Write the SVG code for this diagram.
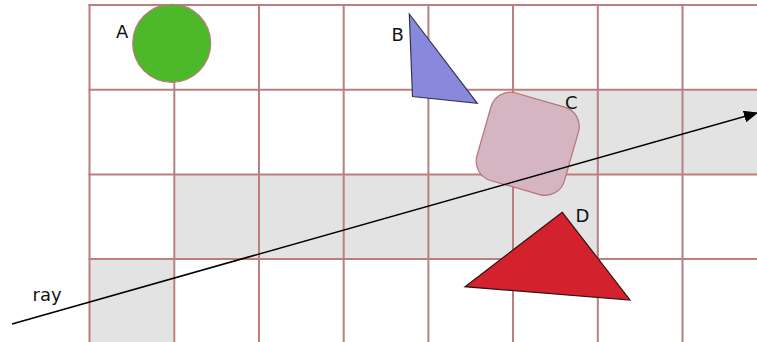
<svg xmlns="http://www.w3.org/2000/svg" width="757" height="342" viewBox="0 0 757 342">
<defs>
<style>
.cell{fill:#e3e3e3;stroke:none}
.grid line{stroke:#bb7f7f;stroke-width:2}
.lbl{font-family:"DejaVu Sans",sans-serif;font-size:18px;fill:#111}
.shape{stroke-width:1.2}
</style>
<marker id="arr" markerWidth="14" markerHeight="12" refX="13" refY="6" orient="auto" markerUnits="userSpaceOnUse">
<path d="M0,0 L14,6 L0,12 Z" fill="#000"/>
</marker>
</defs>
<rect width="757" height="342" fill="#fff"/>
<g id="cells">
<rect class="cell" x="513" y="89.7" width="254" height="84.7"/>
<rect class="cell" x="174.3" y="174.4" width="423.5" height="84.6"/>
<rect class="cell" x="89.5" y="259" width="84.8" height="84"/>
</g>
<g class="grid" id="grid">
<line x1="89.5" y1="4" x2="89.5" y2="342"/>
<line x1="174.3" y1="4" x2="174.3" y2="342"/>
<line x1="259" y1="4" x2="259" y2="342"/>
<line x1="343.7" y1="4" x2="343.7" y2="342"/>
<line x1="428.4" y1="4" x2="428.4" y2="342"/>
<line x1="513" y1="4" x2="513" y2="342"/>
<line x1="597.8" y1="4" x2="597.8" y2="342"/>
<line x1="682.5" y1="4" x2="682.5" y2="342"/>
<line x1="88.5" y1="5" x2="757" y2="5"/>
<line x1="88.5" y1="89.7" x2="757" y2="89.7"/>
<line x1="88.5" y1="174.4" x2="757" y2="174.4"/>
<line x1="88.5" y1="259" x2="757" y2="259"/>
</g>
<g id="nodeA">
<circle class="shape" cx="171.7" cy="43.3" r="39" fill="#4cb82a" stroke="#b87a7a"/>
<text class="lbl" x="116" y="38">A</text>
</g>
<g id="nodeB">
<polygon class="shape" points="409.3,14 412.5,96.5 477.3,103.3" fill="#8888dd" stroke="#333355"/>
<text class="lbl" x="391.5" y="41">B</text>
</g>
<g id="nodeC">
<rect class="shape" x="-45.5" y="-45.5" width="91" height="91" rx="20" ry="20" transform="translate(527.7 143.8) rotate(16)" fill="#d4b5c1" stroke="#b87474" stroke-width="1.5"/>
<text class="lbl" x="565" y="109">C</text>
</g>
<g id="nodeD">
<polygon class="shape" points="562.3,212.3 465,286.7 630,300" fill="#d3212d" stroke="#331111"/>
<text class="lbl" x="575.5" y="222">D</text>
</g>
<g id="connectors">
<line x1="12" y1="324" x2="757" y2="113" stroke="#000" stroke-width="1.5" marker-end="url(#arr)"/>
<text class="lbl" x="32.5" y="301">ray</text>
</g>
</svg>
